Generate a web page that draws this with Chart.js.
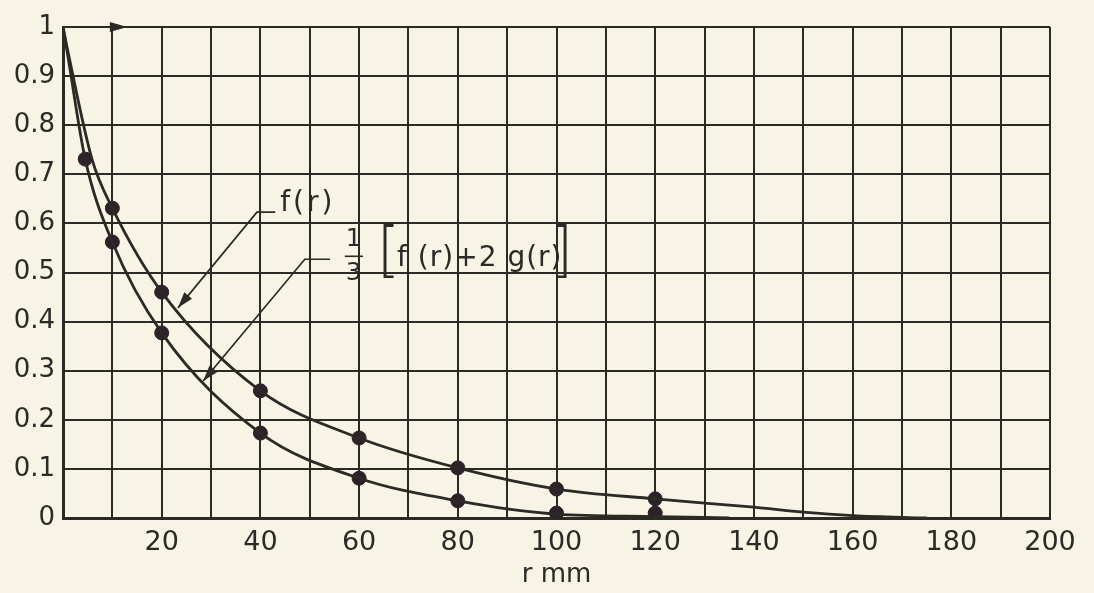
<!DOCTYPE html>
<html>
<head>
<meta charset="utf-8">
<script src="https://cdn.jsdelivr.net/npm/chart.js@4.4.0/dist/chart.umd.min.js"></script>
<style>
html,body{margin:0;padding:0;background:#f7f3e5;}
#wrap{width:1094px;height:593px;}
</style>
</head>
<body>
<div id="wrap"><canvas id="c" width="1094" height="593"></canvas></div>
<script>
// ---- data ----
const xTickLabels = [20, 40, 60, 80, 100, 120, 140, 160, 180, 200];
const yTickLabels = ['0', '0.1', '0.2', '0.3', '0.4', '0.5', '0.6', '0.7', '0.8', '0.9', '1'];

// f(r) curve (as drawn) and its measured points
const fCurveR = [0, 1, 5.9, 10, 20, 40, 60, 80, 100, 120, 140, 150, 160, 175];
const fCurveV = [1, 0.95, 0.73, 0.631, 0.46, 0.259, 0.163, 0.102, 0.059, 0.039, 0.022, 0.012, 0.005, 0];
const fPointR = [10, 20, 40, 60, 80, 100, 120];
const fPointV = [0.631, 0.46, 0.259, 0.163, 0.102, 0.059, 0.039];

// 1/3 [f(r) + 2 g(r)] curve (as drawn) and its measured points
const hCurveR = [0, 1, 4.5, 10, 20, 40, 60, 80, 100, 120, 135];
const hCurveV = [1, 0.94, 0.731, 0.562, 0.377, 0.173, 0.081, 0.035, 0.008, 0.003, 0];
const hPointR = [4.5, 10, 20, 40, 60, 80, 100, 120];
const hPointV = [0.731, 0.562, 0.377, 0.173, 0.081, 0.035, 0.01, 0.01];

const toXY = (rs, vs) => rs.map((r, i) => ({x: r, y: vs[i]}));

const INK = '#2b2a25';
const DOT = '#2c2228';
const PAPER = '#f7f3e5';
const FONT = "'DejaVu Sans', sans-serif";

const paper = {
  id: 'paper',
  beforeDraw(chart) {
    const {ctx, width, height} = chart;
    ctx.save();
    ctx.fillStyle = PAPER;
    ctx.fillRect(0, 0, width, height);
    ctx.restore();
  }
};

function arrowHead(ctx, fx, fy, tx, ty, len, half) {
  const dx = tx - fx, dy = ty - fy;
  const d = Math.hypot(dx, dy);
  const ux = dx / d, uy = dy / d;
  const bx = tx - ux * len, by = ty - uy * len;
  ctx.beginPath();
  ctx.moveTo(tx, ty);
  ctx.lineTo(bx - uy * half, by + ux * half);
  ctx.lineTo(bx + uy * half, by - ux * half);
  ctx.closePath();
  ctx.fill();
}

const annot = {
  id: 'annot',
  afterDatasetsDraw(chart) {
    const {ctx, scales: {x, y}} = chart;
    const px = v => x.getPixelForValue(v);
    const py = v => y.getPixelForValue(v);
    ctx.save();
    ctx.strokeStyle = INK;
    ctx.fillStyle = INK;

    // arrow on the top border
    const ay = py(1);
    ctx.beginPath();
    ctx.moveTo(px(9.5), ay - 5);
    ctx.lineTo(px(13), ay);
    ctx.lineTo(px(9.5), ay + 5);
    ctx.closePath();
    ctx.fill();

    // f(r) leader
    ctx.lineWidth = 1.7;
    ctx.beginPath();
    ctx.moveTo(px(43), py(0.623));
    ctx.lineTo(px(39.3), py(0.623));
    ctx.lineTo(px(23.3), py(0.428));
    ctx.stroke();
    arrowHead(ctx, px(39.3), py(0.623), px(23.3), py(0.428), 16, 5);

    // 1/3[...] leader
    ctx.beginPath();
    ctx.moveTo(px(54.1), py(0.527));
    ctx.lineTo(px(49.0), py(0.527));
    ctx.lineTo(px(28.4), py(0.279));
    ctx.stroke();
    arrowHead(ctx, px(49.0), py(0.527), px(28.4), py(0.279), 16, 5);

    // texts
    ctx.textBaseline = 'middle';
    ctx.textAlign = 'left';
    ctx.font = "28px " + FONT;
    try { ctx.letterSpacing = '3px'; } catch (e) {}
    ctx.fillText('f(r)', px(44), py(0.64));

    ctx.textAlign = 'center';
    try { ctx.letterSpacing = '0px'; } catch (e) {}
    ctx.font = "25px " + FONT;
    ctx.fillText('1', px(58.9), py(0.568));
    ctx.fillText('3', px(58.9), py(0.498));
    ctx.lineWidth = 1.6;
    ctx.beginPath();
    ctx.moveTo(px(57.1), py(0.533));
    ctx.lineTo(px(60.8), py(0.533));
    ctx.stroke();

    // brackets
    ctx.textBaseline = 'middle';
    ctx.font = "200 60px " + FONT;
    ctx.textAlign = 'left';
    ctx.fillText('[', px(63.6), py(0.536));
    ctx.textAlign = 'right';
    ctx.fillText(']', px(103.4), py(0.536));

    ctx.textAlign = 'left';
    ctx.textBaseline = 'alphabetic';
    ctx.font = "28px " + FONT;
    try { ctx.letterSpacing = '1px'; } catch (e) {}
    ctx.fillText('f (r)+2 g(r)', px(67.7), py(0.513));
    ctx.restore();
  }
};

const lineDs = (data) => ({
  type: 'line', data, borderColor: INK, borderWidth: 2.8,
  pointRadius: 0, fill: false, cubicInterpolationMode: 'monotone'
});
const dotDs = (data) => ({
  type: 'scatter', data, showLine: false, pointRadius: 7, pointHoverRadius: 7,
  backgroundColor: DOT, borderColor: DOT, borderWidth: 1
});

new Chart(document.getElementById('c'), {
  data: {
    datasets: [
      lineDs(toXY(fCurveR, fCurveV)),
      lineDs(toXY(hCurveR, hCurveV)),
      dotDs(toXY(fPointR, fPointV)),
      dotDs(toXY(hPointR, hPointV))
    ]
  },
  options: {
    responsive: false,
    animation: false,
    devicePixelRatio: 1,
    layout: {padding: {top: 27, right: 44, bottom: 0, left: 0}},
    plugins: {legend: {display: false}, tooltip: {enabled: false}},
    scales: {
      x: {
        type: 'linear', min: 0, max: 200,
        afterFit: s => { s.height = 75; },
        grid: {color: INK, lineWidth: 2, drawTicks: false},
        border: {color: INK, width: 3},
        ticks: {
          stepSize: 10, autoSkip: false, maxRotation: 0, padding: 9,
          color: INK, font: {family: FONT, size: 27},
          callback: v => xTickLabels.includes(v) ? String(v) : ''
        },
        title: {display: true, text: 'r mm', color: INK,
          font: {family: FONT, size: 26}, padding: {top: 0, bottom: 2}}
      },
      y: {
        type: 'linear', min: 0, max: 1,
        afterFit: s => { s.width = 63; },
        grid: {color: INK, lineWidth: 2, drawTicks: false},
        border: {color: INK, width: 3},
        ticks: {
          stepSize: 0.1, padding: 8, color: INK,
          font: {family: FONT, size: 26},
          callback: v => yTickLabels[Math.round(v * 10)]
        }
      }
    }
  },
  plugins: [paper, annot]
});
</script>
</body>
</html>
